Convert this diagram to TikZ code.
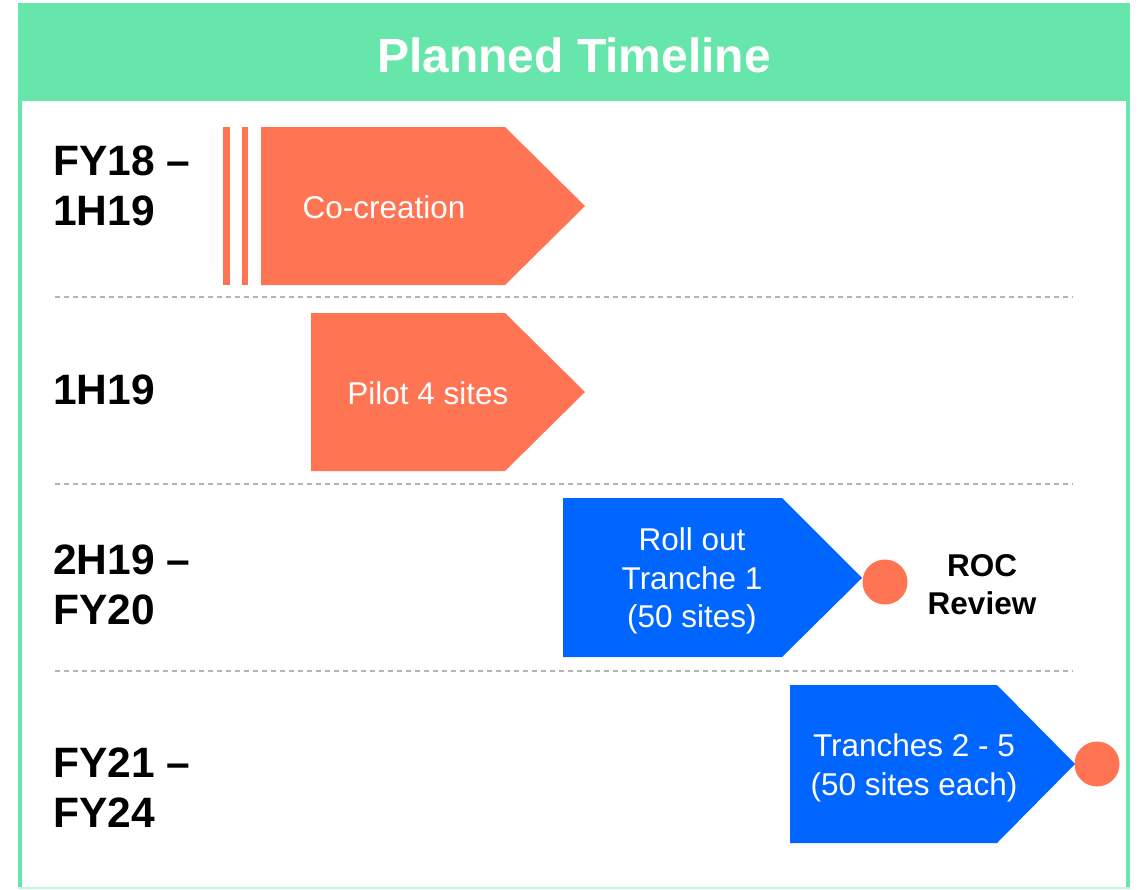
\documentclass[tikz,border=0pt]{standalone}
\usepackage{fontspec}
\setmainfont{Liberation Sans}
\usepackage{xcolor}
\usepackage{tikz}

\definecolor{menthe}{HTML}{66E6AA}
\definecolor{corail}{HTML}{FF7452}
\definecolor{bleuvif}{HTML}{0066FF}
\definecolor{tirets}{HTML}{B4B4B4}

\begin{document}
\begin{tikzpicture}[
    x=1pt, y=-1pt,
    % Style du titre dans le bandeau
    titre/.style={text=white, inner sep=0pt, font=\fontsize{48}{52}\selectfont\bfseries},
    % Style des périodes (colonne de gauche)
    periode/.style={anchor=west, align=left, inner sep=0pt, font=\fontsize{42.5}{50}\selectfont\bfseries},
    % Style du texte dans les flèches
    etape/.style={text=white, align=center, inner sep=0pt, font=\fontsize{31.5}{38.5}\selectfont},
    % Style des flèches (orange et bleu)
    flecheorange/.style={fill=corail, draw=none},
    flechebleue/.style={fill=bleuvif, draw=none},
    % Style des jalons (cercles)
    jalon/.style={circle, fill=corail, minimum size=45pt, inner sep=0pt},
    % Style des séparateurs
    separateur/.style={draw=tirets, line width=1.2pt, dash pattern=on 5pt off 4pt}
]
\useasboundingbox (0,0) rectangle (1138,889);

% Bandeau et cadre
\fill[menthe] (18,3) rectangle (1130,101);
\draw[menthe, line width=4pt] (20,101) -- (20,887) (1128,101) -- (1128,887);
\draw[menthe!40, line width=2pt] (18,888) -- (1130,888);
\node[titre] (title) at (574,55) {Planned Timeline};

% Séparateurs entre les lignes
\foreach \y in {297,484,671}
    \draw[separateur] (55,\y) -- (1073,\y);

% Périodes
\node[periode] (p1) at (53,186) {FY18 –\\1H19};
\node[periode] (p2) at (53,390) {1H19};
\node[periode] (p3) at (53,585) {2H19 –\\FY20};
\node[periode] (p4) at (53,788) {FY21 –\\FY24};

% Co-creation (avec rayures)
\fill[flecheorange] (223,127) rectangle (230,285);
\fill[flecheorange] (242,127) rectangle (248,285);
\fill[flecheorange] (261,127) -- (505,127) -- (585,206) -- (505,285) -- (261,285) -- cycle;
\node[etape] (cocreation) at (384,207) {Co-creation};

% Pilote
\fill[flecheorange] (311,313) -- (505,313) -- (585,392) -- (505,471) -- (311,471) -- cycle;
\node[etape] (pilote) at (428,393) {Pilot 4 sites};

% Tranche 1 et revue
\fill[flechebleue] (563,498) -- (782,498) -- (862,578) -- (782,657) -- (563,657) -- cycle;
\node[etape] (tranche1) at (692,581) {Roll out\\Tranche 1\\(50 sites)};
\node[jalon] (roc) at (885,582) {};
\node[font=\fontsize{31.5}{38}\selectfont\bfseries, align=center, inner sep=0pt] (review) at (982,585) {ROC\\Review};

% Tranches 2 - 5
\fill[flechebleue] (790,685) -- (997,685) -- (1075,764) -- (997,843) -- (790,843) -- cycle;
\node[etape] (tranches) at (914,768) {Tranches 2 - 5\\(50 sites each)};
\node[jalon] (fin) at (1097,764) {};

\end{tikzpicture}
\end{document}
